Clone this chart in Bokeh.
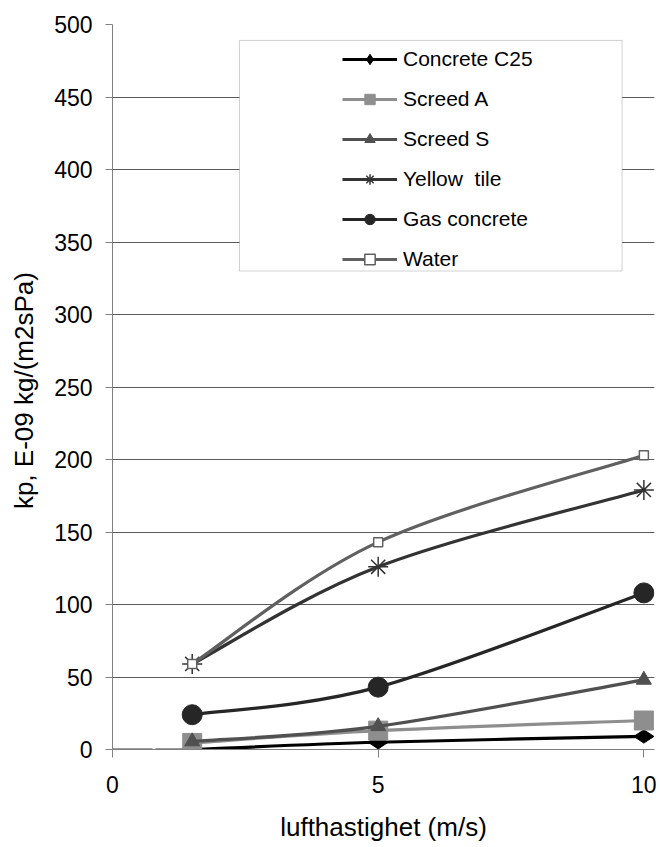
import numpy as np
from bokeh.plotting import figure
from bokeh.models import Range1d, FixedTicker, Legend, LegendItem, BoxAnnotation
from bokeh.embed import file_html
from bokeh.resources import INLINE

# ---- data ----
x_speed = [1.5, 5, 10]
concrete_c25 = [0, 5, 9]
screed_a = [4.5, 13, 20]
screed_s = [5.5, 16, 48]
yellow_tile = [59, 126, 179]
gas_concrete = [24, 43, 108]
water = [59, 143, 203]
baseline_x = [0, 1.35]
baseline_y = [0, 0]
x_ticks = [0, 5, 10]
y_ticks = list(range(0, 501, 50))
series_names = ["Concrete C25", "Screed A", "Screed S", "Yellow  tile", "Gas concrete", "Water"]

FONT = "Liberation Sans"

p = figure(width=660, height=847, output_backend="svg", toolbar_location=None,
           title=None, x_range=Range1d(0, 10.2), y_range=Range1d(0, 500),
           min_border_left=112, min_border_right=6, min_border_top=24,
           min_border_bottom=98)
p.outline_line_color = None
p.background_fill_color = "white"
p.xgrid.visible = False
p.ygrid.grid_line_color = "#5a5a5a"
p.ygrid.grid_line_width = 1
p.xaxis.ticker = FixedTicker(ticks=x_ticks)
p.yaxis.ticker = FixedTicker(ticks=y_ticks)
for ax in (p.xaxis[0], p.yaxis[0]):
    ax.axis_line_color = "#808080"
    ax.major_tick_line_color = "#808080"
    ax.major_tick_in = 0
    ax.minor_tick_line_color = None
    ax.major_label_text_font = FONT
    ax.major_label_text_font_size = "23px"
    ax.major_label_text_color = "black"
    ax.axis_label_text_font = FONT
    ax.axis_label_text_font_size = "26px"
    ax.axis_label_text_font_style = "normal"
    ax.axis_label_text_color = "black"
p.xaxis.major_tick_out = 8
p.yaxis.major_tick_out = 7
p.xaxis.major_label_standoff = 18
p.yaxis.major_label_standoff = 13
p.xaxis.axis_label = "lufthastighet (m/s)"
p.yaxis.axis_label = "kp,  E-09 kg/(m2sPa)"
p.xaxis.axis_label_standoff = 16
p.yaxis.axis_label_standoff = 12


def smooth(xs, ys):
    P = np.column_stack([xs, ys]).astype(float)
    n = len(P)
    ext = np.vstack([P[0], P, P[-1]])
    c0 = P[:-1] + (ext[2:n + 1] - ext[0:n - 1]) / 6.0
    c1 = P[1:] - (ext[3:n + 2] - ext[1:n]) / 6.0
    return dict(x0=P[:-1, 0], y0=P[:-1, 1], x1=P[1:, 0], y1=P[1:, 1],
                cx0=c0[:, 0], cy0=c0[:, 1], cx1=c1[:, 0], cy1=c1[:, 1])


p.line(baseline_x, baseline_y, line_color="#9a9a9a", line_width=3, line_dash="40 3")

styles = [
    (concrete_c25, "#000000", dict(marker="diamond", size=20, angle=np.pi / 2,
                                   fill_color="#000000", line_color="#000000")),
    (screed_a, "#8e8e8e", dict(marker="square", size=19, fill_color="#8e8e8e",
                               line_color="#8e8e8e")),
    (screed_s, "#505050", dict(marker="triangle", size=15, fill_color="#505050",
                               line_color="#505050")),
    (yellow_tile, "#333333", dict(marker="asterisk", size=20, line_color="#333333",
                                  line_width=1.5)),
    (gas_concrete, "#262626", dict(marker="circle", size=20, fill_color="#262626",
                                   line_color="#262626")),
    (water, "#606060", dict(marker="square", size=9, fill_color="white",
                            line_color="#606060", line_width=1.5)),
]

items = []
for name, (ys, color, mk) in zip(series_names, styles):
    b = p.bezier(line_color=color, line_width=3.2, **smooth(x_speed, ys))
    s = p.scatter(x_speed, ys, **mk)
    items.append(LegendItem(label=name, renderers=[b, s]))

box = BoxAnnotation(left=2.39, right=9.59, bottom=330, top=489,
                    fill_color="white", fill_alpha=1.0,
                    line_color="#666666", line_width=1)
p.add_layout(box)

legend = Legend(items=items, location=(230, 477), padding=0, margin=0,
                border_line_color=None, background_fill_alpha=0,
                glyph_width=55, glyph_height=26, label_height=26, spacing=14,
                label_standoff=6, label_text_font=FONT, label_text_font_size="21px",
                label_text_color="black")
p.add_layout(legend)

open("out.html", "w").write(file_html(p, INLINE))
